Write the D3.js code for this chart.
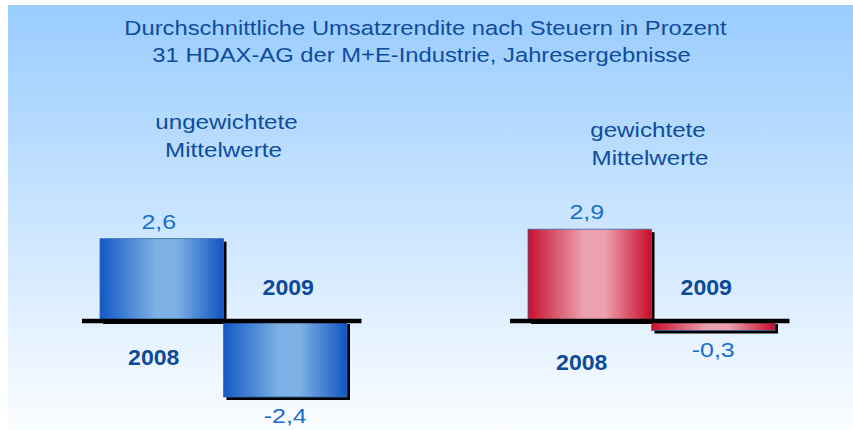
<!DOCTYPE html>
<html lang="de">
<head>
<meta charset="UTF-8">
<title>Umsatzrendite</title>
<style>
  body { margin: 0; background: #fff; }
  svg { display: block; font-family: "Liberation Sans", Arial, sans-serif; }
</style>
</head>
<body>
<script src="https://cdn.jsdelivr.net/npm/d3@7"></script>
<script>
var titleLines = ["Durchschnittliche Umsatzrendite nach Steuern in Prozent",
                  "31 HDAX-AG der M+E-Industrie, Jahresergebnisse"];
var groups = ["ungewichtete Mittelwerte", "gewichtete Mittelwerte"];
var groupLines = [["ungewichtete", "Mittelwerte"], ["gewichtete", "Mittelwerte"]];
var years = ["2008", "2009"];
var unweighted = [2.6, -2.4];
var weighted = [2.9, -0.3];
var values = [unweighted, weighted];

var width = 853, height = 430;

var svg = d3.select('body').append('svg').attr('width', width).attr('height', height);
var defs = svg.append('defs');

var bg = defs.append('linearGradient').attr('id', 'bg').attr('x1', 0).attr('y1', 0).attr('x2', 0).attr('y2', 1);
bg.append('stop').attr('offset', '0%').attr('stop-color', '#99ccff');
bg.append('stop').attr('offset', '100%').attr('stop-color', '#fbfdff');

function barGrad(id, dark, light, dark2) {
    var g = defs.append('linearGradient').attr('id', id).attr('x1', 0).attr('y1', 0).attr('x2', 1).attr('y2', 0);
    g.append('stop').attr('offset', '0%').attr('stop-color', dark);
    g.append('stop').attr('offset', '45%').attr('stop-color', light);
    g.append('stop').attr('offset', '62%').attr('stop-color', light);
    g.append('stop').attr('offset', '100%').attr('stop-color', dark2);
}
barGrad('blue', '#1259c4', '#7db0e4', '#1155c2');
barGrad('red', '#c8102e', '#eba1b0', '#c70d2a');
var fills = ['url(#blue)', 'url(#red)'];

// text stretched a bit wider, like the original slide
function label(sel, x, y, sx) {
    return sel.attr('transform', 'translate(' + x + ',' + y + ') scale(' + sx + ',1)')
              .attr('text-anchor', 'middle');
}

svg.append('rect').attr('x', 8).attr('y', 5).attr('width', width - 8).attr('height', height - 5)
   .attr('fill', 'url(#bg)');

svg.append('g').selectAll('text').data(titleLines).enter().append('text')
   .each(function(d, i) { label(d3.select(this), i === 0 ? 425.5 : 421.5, 35 + i * 27, 1.16); })
   .attr('font-size', 20.5).attr('fill', '#0f4d9c')
   .text(function(d) { return d; });

// panel centres and value scale
var xOuter = d3.scalePoint().domain(groups).range([223.5, 651.5]);
var y = d3.scaleLinear().domain([-3, 3]).range([416, 226]);
var fmt = function(v) { return d3.format('.1f')(v).replace('.', ',').replace('\u2212', '-'); };

groups.forEach(function(grp, gi) {
    var c = xOuter(grp);
    var x = d3.scaleBand().domain(years).range([c - 123.5, c + 123.5]).paddingInner(0);
    var data = values[gi].map(function(v, i) { return { year: years[i], v: v }; });
    var g = svg.append('g');

    g.selectAll('text.grp').data(groupLines[gi]).enter().append('text')
     .attr('class', 'grp')
     .each(function(d, i) {
         var dx = gi === 0 ? (i === 0 ? 3 : 0) : (i === 0 ? -3.5 : -1.5);
         label(d3.select(this), c + dx, (gi === 0 ? 129 : 137) + i * 28, 1.24);
     })
     .attr('font-size', 19.5).attr('fill', '#0f4d9c')
     .text(function(d) { return d; });

    // shadows
    g.selectAll('rect.shadow').data(data).enter().append('rect')
     .attr('class', 'shadow')
     .attr('x', function(d) { return x(d.year) + 3; })
     .attr('y', function(d) { return Math.min(y(d.v), y(0)) + 3; })
     .attr('width', x.bandwidth())
     .attr('height', function(d) { return Math.abs(y(d.v) - y(0)); })
     .attr('fill', '#000');

    g.selectAll('rect.bar').data(data).enter().append('rect')
     .attr('class', 'bar')
     .attr('x', function(d) { return x(d.year); })
     .attr('y', function(d) { return Math.min(y(d.v), y(0)); })
     .attr('width', x.bandwidth())
     .attr('height', function(d) { return Math.abs(y(d.v) - y(0)); })
     .attr('fill', fills[gi]).attr('stroke', '#3a6ab0').attr('stroke-width', 0.8);

    g.append('line')
     .attr('x1', c - 141.5).attr('x2', c + 138)
     .attr('y1', y(0)).attr('y2', y(0))
     .attr('stroke', '#000').attr('stroke-width', 4.5);

    g.selectAll('text.val').data(data).enter().append('text')
     .attr('class', 'val')
     .each(function(d) {
         var cx = x(d.year) + x.bandwidth() / 2 + (d.v > 0 ? -3 : 0);
         label(d3.select(this), cx, d.v > 0 ? y(d.v) - 10 : y(d.v) + 26, 1.28);
     })
     .attr('font-size', 19.5).attr('fill', '#1a6dcc')
     .text(function(d) { return fmt(d.v); });

    g.selectAll('text.yr').data(data).enter().append('text')
     .attr('class', 'yr')
     .each(function(d) {
         var cx = x(d.year) + x.bandwidth() / 2 + (d.v > 0 ? -8 : (gi === 0 ? 3 : -7));
         var cy = d.v > 0 ? (gi === 0 ? 365 : 370) : 295;
         label(d3.select(this), cx, cy, 1.05);
     })
     .attr('font-size', 22).attr('font-weight', 'bold').attr('fill', '#0d4a97')
     .text(function(d) { return d.year; });
});
</script>
</body>
</html>
